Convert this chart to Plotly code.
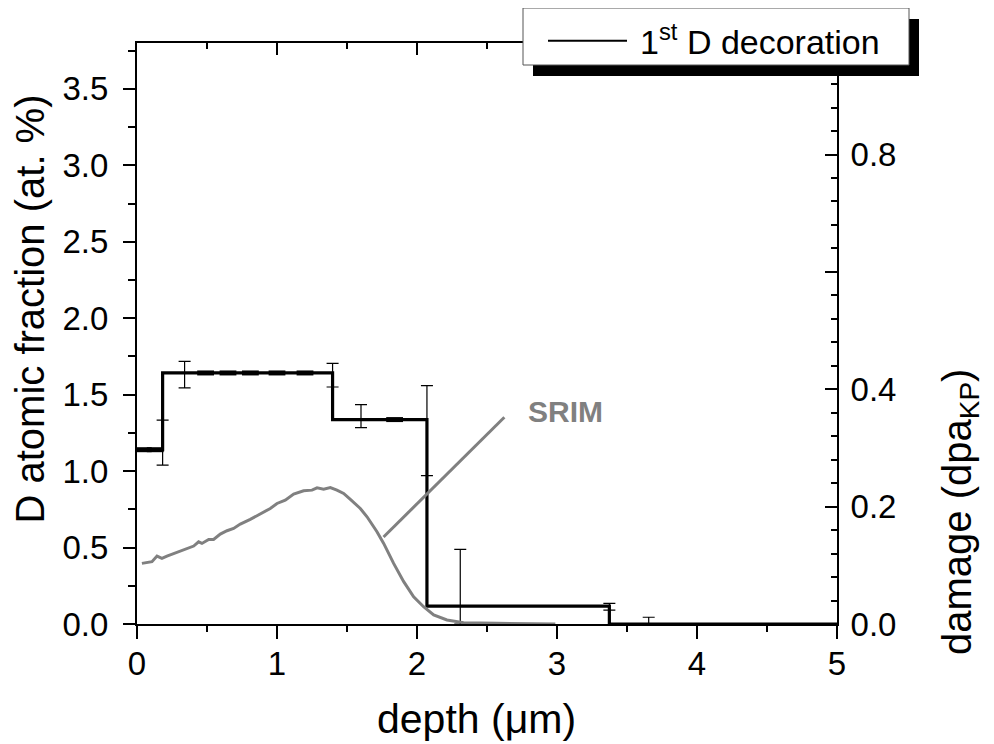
import plotly.graph_objects as go

# ---------------- data ----------------
# NRA step profile (1st D decoration), left axis
step_depth = [0.0, 0.183, 1.397, 2.071, 3.374, 5.0]
step_frac = [1.14, 1.642, 1.337, 0.117, 0.0, 0.0]

# thick dash marks lying on the step levels
dash_depth = [0.045, 0.13, 0.49, 0.65, 0.81, 1.00, 1.20, 1.84]
dash_frac = [1.14, 1.14, 1.642, 1.642, 1.642, 1.642, 1.642, 1.337]

# error bars (centre value and half-width)
err_depth = [0.183, 0.34, 1.397, 1.60, 2.071, 2.309, 3.374, 3.655]
err_frac = [1.186, 1.631, 1.627, 1.36, 1.265, 0.244, 0.113, 0.022]
err_size = [0.147, 0.087, 0.077, 0.075, 0.294, 0.244, 0.022, 0.022]

# SRIM damage profile, right axis (dpa_KP)
srim_depth = [0.035, 0.071, 0.107, 0.143, 0.178, 0.214, 0.262, 0.333, 0.405, 0.44,
              0.464, 0.512, 0.547, 0.595, 0.643, 0.69, 0.738, 0.809, 0.881, 0.952,
              1.0, 1.059, 1.119, 1.19, 1.25, 1.286, 1.333, 1.381, 1.428, 1.476,
              1.524, 1.595, 1.643, 1.714, 1.762, 1.833, 1.905, 1.976, 2.047, 2.119,
              2.214, 2.333, 2.571, 2.988]
srim_dpa = [0.1033, 0.1044, 0.1061, 0.1157, 0.1118, 0.1157, 0.1203, 0.1271, 0.1328, 0.1401,
            0.1373, 0.1441, 0.1441, 0.1532, 0.1589, 0.1628, 0.1702, 0.1782, 0.1872, 0.1969,
            0.2054, 0.2111, 0.2213, 0.2270, 0.2281, 0.2321, 0.2298, 0.2326, 0.2281, 0.2224,
            0.2122, 0.1969, 0.1827, 0.1572, 0.1373, 0.1033, 0.0721, 0.0465, 0.0295, 0.0153,
            0.0068, 0.0023, 0.0011, 0.0]

x_ticks = [0, 1, 2, 3, 4, 5]
x_ticktext = ["0", "1", "2", "3", "4", "5"]
y2_ticks = [0.0, 0.2, 0.4, 0.6, 0.8]
y2_ticktext = ["0.0", "0.2", "0.4", " ", "0.8"]

legend_label = "1<sup>st</sup> D decoration"
x_title = "depth (μm)"
y_title = "D atomic fraction (at. %)"
y2_title = "damage (dpa<sub>KP</sub>)"
srim_label = "<b>SRIM</b>"

# ---------------- figure ----------------
FONT = "Liberation Sans, Arial, sans-serif"
OFF = 8  # default page margin of the html body
W, H = 994 - OFF, 744 - OFF
L, R, T, B = 137 - OFF, 157, 43 - OFF, 120
PW, PH = W - L - R, H - T - B


def px(x):
    # reference-pixel x -> paper
    return (x - OFF - L) / PW


def py(y):
    # reference-pixel y -> paper
    return (H - B - (y - OFF)) / PH


fig = go.Figure()

fig.add_trace(go.Scatter(
    x=srim_depth, y=srim_dpa, mode="lines", yaxis="y2",
    line=dict(color="#808080", width=3), showlegend=False, name="SRIM"))

fig.add_trace(go.Scatter(
    x=step_depth, y=step_frac, mode="lines", line_shape="hv",
    line=dict(color="black", width=3.2), showlegend=False, name="1st D decoration"))

fig.add_trace(go.Scatter(
    x=dash_depth, y=dash_frac, mode="markers",
    marker=dict(symbol="line-ew", size=12, color="black",
                line=dict(color="black", width=5)),
    showlegend=False, hoverinfo="skip"))

fig.add_trace(go.Scatter(
    x=err_depth, y=err_frac, mode="markers",
    marker=dict(size=1, color="rgba(0,0,0,0)"),
    error_y=dict(type="data", array=err_size, visible=True, color="black",
                 thickness=1.2, width=6),
    showlegend=False))

# dummy trace to attach the top axis
fig.add_trace(go.Scatter(x=[None], y=[None], xaxis="x2", yaxis="y",
                         showlegend=False, hoverinfo="skip"))

tickfont = dict(family=FONT, size=33, color="black")

fig.update_layout(
    width=W, height=H,
    margin=dict(l=L, r=R, t=T, b=B, autoexpand=False),
    paper_bgcolor="white", plot_bgcolor="white",
    font=dict(family=FONT, color="black"),
    xaxis=dict(range=[0, 5], tickvals=x_ticks, ticktext=x_ticktext,
               ticks="outside", ticklen=13, tickwidth=2, tickcolor="black",
               minor=dict(dtick=0.5, ticks="outside", ticklen=6, tickwidth=2, tickcolor="black"),
               showline=True, linewidth=2, linecolor="black", showgrid=False, zeroline=False,
               tickfont=tickfont, ticklabelstandoff=-4),
    xaxis2=dict(range=[0, 5], overlaying="x", side="top", anchor="y",
                tickvals=x_ticks, ticks="inside", ticklen=12, tickwidth=2, tickcolor="black",
                minor=dict(dtick=0.5, ticks="inside", ticklen=6, tickwidth=2, tickcolor="black"),
                showticklabels=False, showline=True, linewidth=2, linecolor="black",
                showgrid=False, zeroline=False),
    yaxis=dict(range=[0, 3.8], dtick=0.5, tick0=0, tickformat=".1f",
               ticks="outside", ticklen=12, tickwidth=2, tickcolor="black",
               minor=dict(dtick=0.25, ticks="outside", ticklen=7, tickwidth=2, tickcolor="black"),
               showline=True, linewidth=2, linecolor="black", showgrid=False, zeroline=False,
               tickfont=tickfont, ticklabelstandoff=8),
    yaxis2=dict(range=[0, 0.99], overlaying="y", side="right", anchor="x",
                tickvals=y2_ticks, ticktext=y2_ticktext,
                ticks="inside", ticklen=12, tickwidth=2, tickcolor="black",
                minor=dict(dtick=0.04, ticks="inside", ticklen=6, tickwidth=2, tickcolor="black"),
                showline=True, linewidth=2, linecolor="black", showgrid=False, zeroline=False,
                tickfont=tickfont, ticklabelstandoff=5),
    showlegend=False,
)

shapes = [
    # SRIM pointer line
    dict(type="line", xref="x", yref="y", x0=1.761, y0=0.569, x1=2.624, y1=1.352,
         line=dict(color="#808080", width=3), layer="above"),
    # legend shadow
    dict(type="rect", xref="paper", yref="paper", x0=px(533), x1=px(919), y0=py(76), y1=py(19),
         fillcolor="black", line=dict(width=0), layer="above"),
    # legend box
    dict(type="rect", xref="paper", yref="paper", x0=px(523), x1=px(909), y0=py(65), y1=py(8),
         fillcolor="white", line=dict(color="#555555", width=1), layer="above"),
    # legend line sample
    dict(type="line", xref="paper", yref="paper", x0=px(548), x1=px(627), y0=py(40.7), y1=py(40.7),
         line=dict(color="black", width=2), layer="above"),
]
fig.update_layout(shapes=shapes)

annotations = [
    dict(text=legend_label, xref="paper", yref="paper", x=px(638), y=py(40),
         xanchor="left", yanchor="middle", showarrow=False,
         font=dict(family=FONT, size=34, color="black")),
    dict(text=srim_label, xref="x", yref="y", x=3.06, y=1.39,
         xanchor="center", yanchor="middle", showarrow=False,
         font=dict(family=FONT, size=30, color="#808080")),
    dict(text=x_title, xref="paper", yref="paper", x=px(476), y=py(719),
         xanchor="center", yanchor="middle", showarrow=False,
         font=dict(family=FONT, size=41, color="black")),
    dict(text=y_title, xref="paper", yref="paper", x=px(29), y=py(309.5),
         xanchor="center", yanchor="middle", textangle=-90, showarrow=False,
         font=dict(family=FONT, size=40, color="black")),
    dict(text=y2_title, xref="paper", yref="paper", x=px(960), y=py(512),
         xanchor="center", yanchor="middle", textangle=-90, showarrow=False,
         font=dict(family=FONT, size=40, color="black")),
]
fig.update_layout(annotations=annotations)

fig.write_html("out.html")
